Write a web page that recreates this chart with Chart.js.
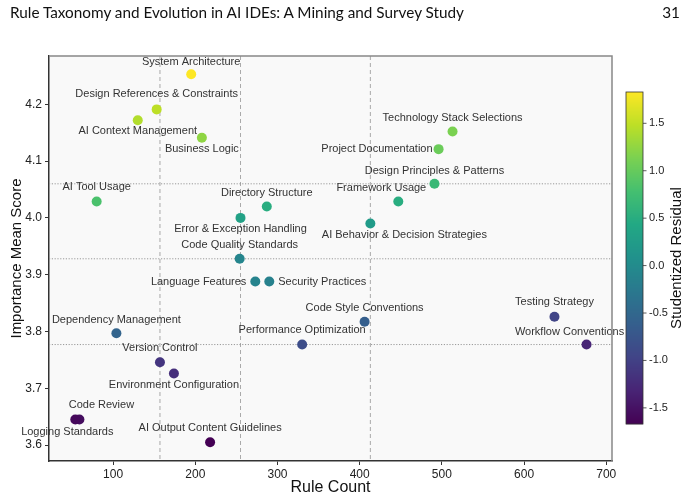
<!DOCTYPE html>
<html>
<head>
<meta charset="utf-8">
<script src="https://cdn.jsdelivr.net/npm/chart.js@4.4.1/dist/chart.umd.min.js"></script>
<style>
  html, body { margin: 0; padding: 0; background: #fff; }
  #wrap { position: relative; width: 693px; height: 498px; overflow: hidden; }
  #myChart { position: absolute; left: 0; top: 0; }
  .hdr { position: absolute; top: 3px; font-family: "Lato", "Open Sans", sans-serif; font-size: 15.3px; color: #111; white-space: nowrap; }
</style>
</head>
<body>
<div id="wrap">
  <canvas id="myChart" width="693" height="498"></canvas>
  <div class="hdr" style="left:10px;">Rule Taxonomy and Evolution in AI IDEs: A Mining and Survey Study</div>
  <div class="hdr" style="right:13px;">31</div>
</div>
<script>
const categories = [
    "System Architecture", "Design References & Constraints", "AI Context Management", "Business Logic",
    "Technology Stack Selections", "Project Documentation", "Design Principles & Patterns", "AI Tool Usage",
    "Framework Usage", "Directory Structure", "Error & Exception Handling", "AI Behavior & Decision Strategies",
    "Code Quality Standards", "Language Features", "Security Practices", "Code Style Conventions",
    "Testing Strategy", "Dependency Management", "Performance Optimization", "Workflow Conventions",
    "Version Control", "Environment Configuration", "Code Review", "Logging Standards",
    "AI Output Content Guidelines"
];
const ruleCount = [195, 153, 130, 208, 513, 496, 491, 80, 447, 287, 255, 413, 254, 273, 290, 406, 637, 104, 330, 676, 157, 174, 59, 54, 218];
const importance = [4.253, 4.191, 4.172, 4.141, 4.152, 4.121, 4.060, 4.029, 4.029, 4.020, 4.000, 3.990, 3.928, 3.888, 3.888, 3.817, 3.826, 3.797, 3.777, 3.777, 3.746, 3.726, 3.645, 3.645, 3.605];
const residual = [1.83, 1.48, 1.42, 1.24, 1.13, 1.03, 0.68, 0.82, 0.50, 0.50, 0.33, 0.23, -0.09, -0.12, -0.15, -0.62, -0.96, -0.55, -0.85, -1.31, -1.13, -1.20, -1.55, -1.60, -1.67];

const xTicks = [100, 200, 300, 400, 500, 600, 700];
const yTicks = [3.6, 3.7, 3.8, 3.9, 4.0, 4.1, 4.2];
const cbTicks = [-1.5, -1.0, -0.5, 0.0, 0.5, 1.0, 1.5];
const xRefLines = [157, 255, 413];   // quartiles of rule count
const yRefLines = [3.777, 3.928, 4.060]; // quartiles of importance

// label placement relative to each point (dx, dy, align)
const labelPlace = [
    [0, -12.5, 'center'], [0, -15, 'center'], [0, 11, 'center'], [0, 11.5, 'center'],
    [0, -14, 'center'], [-6, 0, 'right'], [0, -12.6, 'center'], [0, -14, 'center'],
    [-17, -13, 'center'], [0, -14, 'center'], [0, 11.5, 'center'], [34, 11.4, 'center'],
    [0, -14, 'center'], [-9, 0, 'right'], [9, 0, 'left'], [0, -14, 'center'],
    [0, -14.3, 'center'], [0, -13.7, 'center'], [0, -14.3, 'center'], [-17, -12.6, 'center'],
    [0, -14, 'center'], [0, 11.7, 'center'], [22, -14.3, 'center'], [-8, 12, 'center'],
    [0, -14, 'center']
];

const cbMin = -1.67, cbMax = 1.83;
const viridisStops = ["#440154", "#482475", "#414487", "#355f8d", "#2a788e", "#21918c",
    "#22a884", "#44bf70", "#7ad151", "#bddf26", "#fde725"];

function hexToRgb(h) {
    return [parseInt(h.slice(1, 3), 16), parseInt(h.slice(3, 5), 16), parseInt(h.slice(5, 7), 16)];
}

function viridis(t) {
    t = Math.max(0, Math.min(1, t));
    const pos = t * (viridisStops.length - 1);
    const i = Math.min(Math.floor(pos), viridisStops.length - 2);
    const f = pos - i;
    const a = hexToRgb(viridisStops[i]), b = hexToRgb(viridisStops[i + 1]);
    const c = a.map((v, k) => Math.round(v + (b[k] - v) * f));
    return `rgb(${c[0]},${c[1]},${c[2]})`;
}

function residualColor(v) {
    return viridis((v - cbMin) / (cbMax - cbMin));
}

const FONT = '"Liberation Sans", Arial, sans-serif';

const decorPlugin = {
    id: 'decor',
    beforeDatasetsDraw(chart) {
        const { ctx, chartArea, scales } = chart;
        ctx.save();
        ctx.strokeStyle = '#a0a0a0';
        ctx.lineWidth = 0.9;
        ctx.setLineDash([4, 3]);
        xRefLines.forEach(v => {
            const x = scales.x.getPixelForValue(v);
            ctx.beginPath();
            ctx.moveTo(x, chartArea.top);
            ctx.lineTo(x, chartArea.bottom);
            ctx.stroke();
        });
        ctx.setLineDash([1.2, 1.6]);
        ctx.strokeStyle = '#909090';
        yRefLines.forEach(v => {
            const y = scales.y.getPixelForValue(v);
            ctx.beginPath();
            ctx.moveTo(chartArea.left, y);
            ctx.lineTo(chartArea.right, y);
            ctx.stroke();
        });
        ctx.restore();
    },
    beforeDraw(chart) {
        const { ctx, chartArea } = chart;
        ctx.save();
        ctx.fillStyle = '#f9f9f9';
        ctx.fillRect(chartArea.left, chartArea.top, chartArea.right - chartArea.left, chartArea.bottom - chartArea.top);
        ctx.restore();
    },
    afterDatasetsDraw(chart) {
        const { ctx, scales } = chart;
        ctx.save();
        ctx.font = '11px ' + FONT;
        ctx.fillStyle = '#333';
        ctx.textBaseline = 'middle';
        categories.forEach((name, i) => {
            const x = scales.x.getPixelForValue(ruleCount[i]);
            const y = scales.y.getPixelForValue(importance[i]);
            const [dx, dy, align] = labelPlace[i];
            ctx.textAlign = align;
            ctx.fillText(name, x + dx, y + dy);
        });
        ctx.restore();
    },
    afterDraw(chart) {
        const { ctx, chartArea } = chart;
        ctx.save();
        // top / right frame
        ctx.strokeStyle = '#888';
        ctx.lineWidth = 1.5;
        ctx.beginPath();
        ctx.moveTo(chartArea.left, chartArea.top);
        ctx.lineTo(chartArea.right, chartArea.top);
        ctx.lineTo(chartArea.right, chartArea.bottom);
        ctx.stroke();

        // colorbar
        const x0 = chartArea.right + 14, x1 = x0 + 17;
        const y0 = chartArea.top + 36, y1 = chartArea.bottom - 37;
        const cbY = v => y0 + (cbMax - v) / (cbMax - cbMin) * (y1 - y0);
        for (let y = y0; y < y1; y++) {
            const v = cbMax - (y + 0.5 - y0) / (y1 - y0) * (cbMax - cbMin);
            ctx.fillStyle = residualColor(v);
            ctx.fillRect(x0, y, x1 - x0, 1.2);
        }
        ctx.strokeStyle = '#333';
        ctx.lineWidth = 0.8;
        ctx.strokeRect(x0, y0, x1 - x0, y1 - y0);
        ctx.font = '11px ' + FONT;
        ctx.fillStyle = '#222';
        ctx.textAlign = 'left';
        ctx.textBaseline = 'middle';
        cbTicks.forEach(v => {
            const y = cbY(v);
            ctx.beginPath();
            ctx.moveTo(x1, y);
            ctx.lineTo(x1 + 3.5, y);
            ctx.stroke();
            ctx.fillText(v.toFixed(1), x1 + 6, y);
        });
        ctx.translate(x1 + 34, (y0 + y1) / 2);
        ctx.rotate(-Math.PI / 2);
        ctx.textAlign = 'center';
        ctx.font = '15px ' + FONT;
        ctx.fillStyle = '#111';
        ctx.fillText('Studentized Residual', 0, 0);
        ctx.restore();
    }
};

new Chart("myChart", {
    type: "scatter",
    data: {
        datasets: [{
            data: ruleCount.map((x, i) => ({ x: x, y: importance[i] })),
            backgroundColor: residual.map(residualColor),
            borderWidth: 0,
            pointRadius: 5,
            pointHoverRadius: 5
        }]
    },
    options: {
        responsive: false,
        animation: false,
        events: [],
        layout: { padding: { left: 0, top: 56, right: 81, bottom: 0 } },
        plugins: { legend: { display: false }, tooltip: { enabled: false } },
        scales: {
            x: {
                type: 'linear',
                min: 22,
                max: 707,
                afterBuildTicks: s => { s.ticks = xTicks.map(v => ({ value: v })); },
                afterFit: s => { s.height = 37; },
                ticks: { font: { family: FONT, size: 12 }, color: '#222', padding: 2 },
                grid: { drawOnChartArea: false, drawTicks: true, tickLength: 4, color: '#333' },
                border: { display: true, color: '#333', width: 1.5 },
                title: { display: true, text: 'Rule Count', font: { family: FONT, size: 16 }, color: '#111', padding: { top: 0, bottom: 1 } }
            },
            y: {
                type: 'linear',
                min: 3.572,
                max: 4.285,
                afterBuildTicks: s => { s.ticks = yTicks.map(v => ({ value: v })); },
                afterFit: s => { s.width = 49; },
                ticks: { font: { family: FONT, size: 12 }, color: '#222', padding: 3, callback: v => v.toFixed(1) },
                grid: { drawOnChartArea: false, drawTicks: true, tickLength: 4, color: '#333' },
                border: { display: true, color: '#333', width: 1.5 },
                title: { display: true, text: 'Importance Mean Score', font: { family: FONT, size: 15 }, color: '#111', padding: { top: 8, bottom: 0 } }
            }
        }
    },
    plugins: [decorPlugin]
});
</script>
</body>
</html>
